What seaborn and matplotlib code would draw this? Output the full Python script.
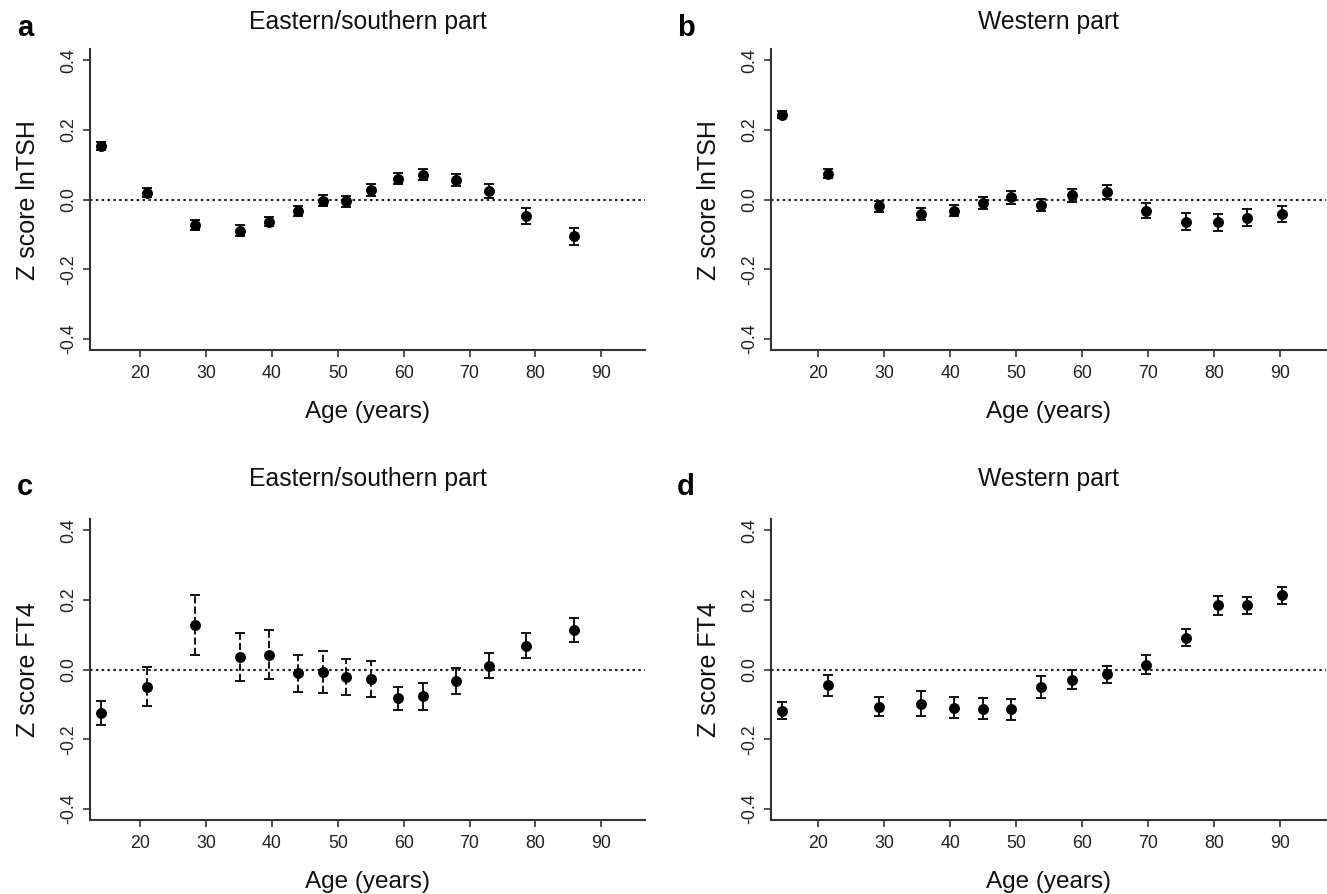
import pandas as pd
import matplotlib
matplotlib.use("Agg")
import matplotlib.pyplot as plt
import seaborn as sns

# Panel a: Z score lnTSH, Eastern/southern part
age_es = [14.0, 21.0, 28.3, 35.1, 39.5, 43.9, 47.8, 51.2, 55.0, 59.1, 63.0, 68.0, 73.0, 78.6, 85.9]
tsh_es = [0.153, 0.019, -0.072, -0.089, -0.064, -0.032, -0.003, -0.005, 0.028, 0.060, 0.071, 0.056, 0.024, -0.047, -0.105]
tsh_es_err = [0.011, 0.013, 0.014, 0.015, 0.013, 0.014, 0.015, 0.016, 0.017, 0.016, 0.016, 0.017, 0.020, 0.022, 0.024]

# Panel b: Z score lnTSH, Western part
age_w = [14.4, 21.5, 29.2, 35.6, 40.6, 44.9, 49.2, 53.7, 58.5, 63.7, 69.7, 75.7, 80.6, 85.0, 90.3]
tsh_w = [0.243, 0.074, -0.019, -0.041, -0.032, -0.010, 0.006, -0.016, 0.012, 0.021, -0.032, -0.063, -0.065, -0.052, -0.041]
tsh_w_err = [0.010, 0.013, 0.016, 0.018, 0.016, 0.018, 0.018, 0.018, 0.018, 0.020, 0.022, 0.024, 0.024, 0.024, 0.024]

# Panel c: Z score FT4, Eastern/southern part
ft4_es = [-0.124, -0.050, 0.128, 0.036, 0.043, -0.011, -0.007, -0.021, -0.027, -0.083, -0.077, -0.033, 0.011, 0.068, 0.114]
ft4_es_err = [0.034, 0.056, 0.085, 0.069, 0.070, 0.054, 0.060, 0.051, 0.052, 0.034, 0.038, 0.038, 0.036, 0.036, 0.035]

# Panel d: Z score FT4, Western part
ft4_w = [-0.118, -0.045, -0.107, -0.098, -0.110, -0.112, -0.114, -0.050, -0.029, -0.014, 0.014, 0.092, 0.184, 0.184, 0.213]
ft4_w_err = [0.025, 0.030, 0.027, 0.035, 0.030, 0.031, 0.030, 0.031, 0.027, 0.024, 0.027, 0.025, 0.027, 0.025, 0.024]

y_ticks = [-0.4, -0.2, 0.0, 0.2, 0.4]
y_tick_labels = ["-0.4", "-0.2", "0.0", "0.2", "0.4"]
x_ticks = [20, 30, 40, 50, 60, 70, 80, 90]

sns.set_style("ticks")
plt.rcParams['font.family'] = ['Liberation Sans', 'DejaVu Sans']
plt.rcParams['axes.unicode_minus'] = False

fig = plt.figure(figsize=(13.27, 8.94), dpi=100)

# axes rectangles in figure fractions
left_cols = [0.0678, 0.5810]
bottom_rows = [0.6085, 0.0828]
width, height = 0.4185, 0.3365
xlims = [(12.35, 96.7), (12.8, 97.0)]


def draw_panel(col, row, ages, z, err, title, ylabel, letter, title_pad, dashed=None):
    ax = fig.add_axes([left_cols[col], bottom_rows[row], width, height])
    df = pd.DataFrame({"age": ages, "z": z, "err": err})

    ax.axhline(0, color="#222222", linestyle=(0, (1.2, 1.6)), linewidth=1.5, zorder=1)
    eb = ax.errorbar(df["age"], df["z"], yerr=df["err"], fmt="none", ecolor="#111111",
                     elinewidth=1.4, capsize=3.6, capthick=1.4, zorder=2)
    if dashed is not None:
        styles = ["--" if i in dashed else "-" for i in range(len(df))]
        eb[2][0].set_linestyles(styles)
    sns.scatterplot(data=df, x="age", y="z", ax=ax, color="black", s=62,
                    edgecolor="black", linewidth=0, zorder=3, legend=False)

    ax.set_xlim(*xlims[col])
    ax.set_ylim(-0.432, 0.432)
    ax.set_xticks(x_ticks)
    ax.set_yticks(y_ticks)
    ax.set_yticklabels(y_tick_labels)
    ax.tick_params(axis="both", direction="out", length=5, width=1.3, color="#444444",
                   labelsize=12.8, labelcolor="#222222")
    ax.tick_params(axis="y", labelrotation=90, pad=4)
    ax.tick_params(axis="x", pad=5.5)
    for lab in ax.get_yticklabels():
        lab.set_va("center")

    sns.despine(ax=ax)
    for side in ["left", "bottom"]:
        ax.spines[side].set_linewidth(1.5)
        ax.spines[side].set_color("#333333")

    ax.set_xlabel("Age (years)", fontsize=17.5, labelpad=14, color="#111111")
    ax.set_ylabel(ylabel, fontsize=18, labelpad=15, color="#111111")
    ax.set_title(title, fontsize=17.8, pad=title_pad, color="#111111")

    x0 = 0.019 if col == 0 else 0.517
    y0 = 0.9685 if row == 0 else 0.4555
    fig.text(x0, y0, letter, fontsize=21, fontweight="bold", ha="center", va="center",
             color="black")
    return ax


draw_panel(0, 0, age_es, tsh_es, tsh_es_err, "Eastern/southern part", "Z score lnTSH", "a", 14.5)
draw_panel(1, 0, age_w, tsh_w, tsh_w_err, "Western part", "Z score lnTSH", "b", 14.5)
draw_panel(0, 1, age_es, ft4_es, ft4_es_err, "Eastern/southern part", "Z score FT4", "c", 24,
           dashed=range(1, 9))
draw_panel(1, 1, age_w, ft4_w, ft4_w_err, "Western part", "Z score FT4", "d", 24)

fig.savefig("out.png", dpi=100)
